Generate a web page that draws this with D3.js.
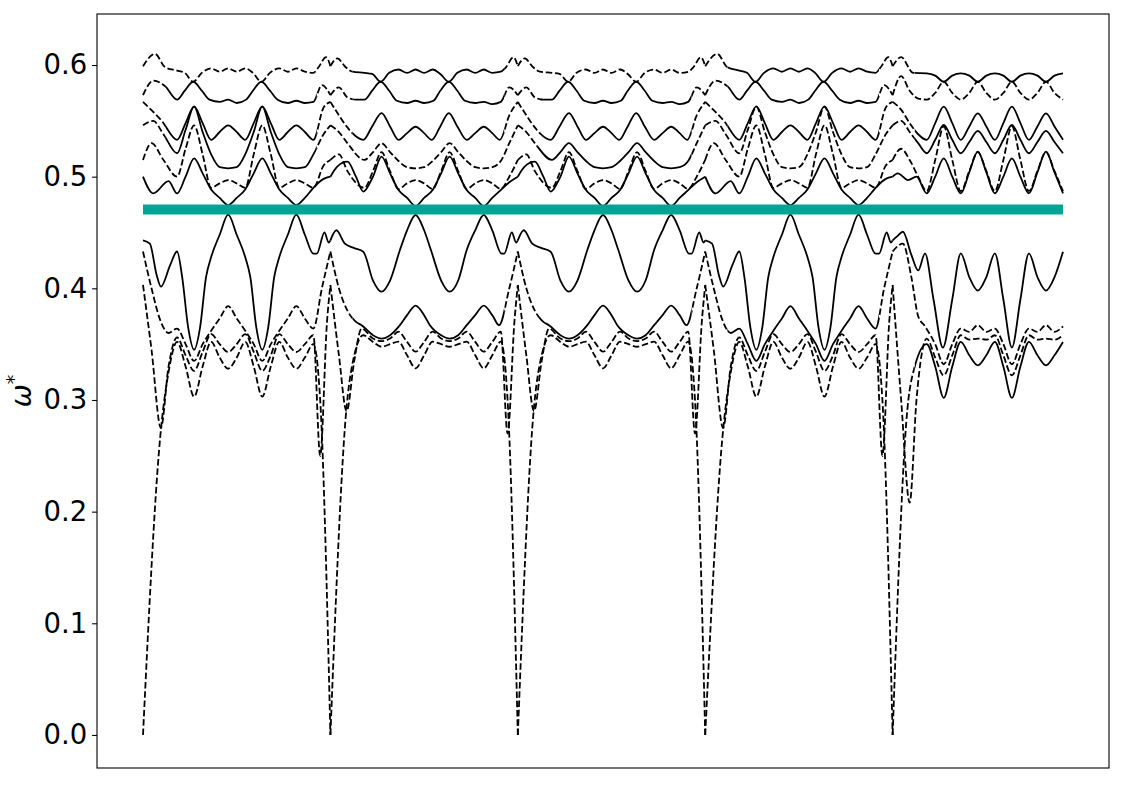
<!DOCTYPE html>
<html><head><meta charset="utf-8">
<script src="https://cdn.jsdelivr.net/npm/d3@7/dist/d3.min.js"></script>
<style>body{margin:0;background:#fff}svg{display:block}</style>
</head><body>
<svg id="chart" width="1125" height="785"></svg>
<script>
// ---------- DATA (omega* values; u = position along each path segment) ----------
const yTickValues = [0.0, 0.1, 0.2, 0.3, 0.4, 0.5, 0.6];
const segmentStarts = [0, 11, 22, 33, 44];
const segmentLengths = [11, 11, 11, 11, 10];
const segmentTypes = ["A", "B", "B", "A", "C"];
const bandNames = ["topHi", "topLo", "M1", "M2", "D1", "L0", "B0", "L1", "L2", "L3"];
const flatBandOmega = 0.4705;
const flatBandRange = [0, 54];

// segment type A (segments 1 and 4)
const A_topHi = [[0,.599],[0.7,.610],[1.3,.598],[2,.595],[2.45,.593],[2.95,.585],[3.45,.593],[4,.597],[4.5,.594],[5,.597],[5.5,.594],[6,.597],[6.45,.593],[6.95,.585],[7.45,.593],[8,.597],[8.5,.594],[9,.597],[9.5,.594],[10,.593],[10.3,.598],[10.75,.607],[11,.599]];
const A_topLo = [[0,.573],[0.6,.586],[1.3,.581],[2,.569],[2.45,.577],[2.95,.585],[3.45,.577],[3.9,.569],[4.5,.567],[5,.569],[5.5,.566],[6.05,.569],[6.45,.577],[6.95,.585],[7.45,.577],[7.9,.569],[8.5,.566],[9,.568],[9.5,.566],[10,.567],[10.5,.582],[11,.573]];
const A_M1 = [[0,.567],[0.6,.558],[1.1,.55],[2,.533],[2.5,.548],[3,.563],[3.5,.548],[4,.533],[4.5,.540],[5,.546],[5.5,.540],[6,.533],[6.5,.548],[7,.563],[7.5,.548],[8,.533],[8.5,.540],[9,.546],[9.5,.540],[10,.533],[10.6,.562],[11,.567]];
const A_M2 = [[0,.546],[0.6,.55],[1.2,.538],[2,.521],[2.5,.542],[3,.5627],[3.5,.54],[4,.52],[4.5,.5085],[5,.5075],[5.5,.5085],[6,.52],[6.5,.54],[7,.5627],[7.5,.54],[8,.52],[8.5,.5085],[9,.5075],[9.5,.5085],[10,.52],[10.6,.538],[11,.546]];
const A_D1 = [[0,.515],[0.5,.53],[1.2,.515],[2,.50],[2.5,.525],[3,.546],[3.5,.52],[4,.49],[4.5,.494],[5,.497],[5.5,.494],[6,.49],[6.5,.52],[7,.546],[7.5,.52],[8,.49],[8.5,.494],[9,.497],[9.5,.494],[10,.49],[10.6,.51],[11,.515]];
const A_L0 = [[0,.50],[0.6,.485],[1.5,.496],[2,.485],[2.5,.50],[3,.5164],[3.5,.503],[4,.4885],[4.5,.481],[5,.4746],[5.5,.481],[6,.4885],[6.5,.503],[7,.5164],[7.5,.503],[8,.4885],[8.5,.481],[9,.4746],[9.5,.481],[10,.49],[10.6,.498],[11,.50]];
const A_B0 = [[0,.443],[0.4,.44],[0.8,.412],[1.05,.4015],[1.6,.421],[2,.433],[2.3,.41],[2.65,.365],[3,.345],[3.35,.365],[3.7,.41],[4,.428],[4.5,.448],[5,.466],[5.5,.448],[6,.428],[6.3,.41],[6.65,.365],[7,.345],[7.35,.365],[7.7,.41],[8,.428],[8.5,.448],[9,.466],[9.5,.448],[10,.431],[10.2,.431],[10.65,.450],[10.9,.441],[11,.443]];
const A_L1 = [[0,.433],[0.5,.40],[1,.372],[1.5,.36],[2,.364],[2.5,.35],[3,.335],[3.5,.35],[4,.362],[4.5,.373],[5,.384],[5.5,.373],[6,.362],[6.5,.35],[7,.335],[7.5,.35],[8,.362],[8.5,.373],[9,.384],[9.5,.373],[10,.364],[10.5,.40],[11,.433]];
const A_L2 = [[0,.403],[0.5,.345],[1.05,.275],[1.5,.33],[2,.356],[2.5,.34],[3,.326],[3.5,.343],[4,.359],[4.5,.35],[5,.343],[5.5,.35],[6,.359],[6.5,.343],[7,.326],[7.5,.34],[8,.359],[8.5,.35],[9,.343],[9.5,.35],[10,.358],[10.4,.25],[10.8,.37],[11,.403]];
const A_L3 = [[0,0],[1.0,.265],[1.5,.325],[2,.352],[2.5,.33],[3,.303],[3.5,.33],[4,.352],[4.5,.338],[5,.328],[5.5,.338],[6,.352],[6.5,.33],[7,.303],[7.5,.33],[8,.352],[8.5,.338],[9,.328],[9.5,.338],[10,.35],[10.4,.30],[11,0]];

// segment type B (segments 2 and 3)
const B_topHi = [[0,.599],[0.4,.606],[0.9,.598],[1.3,.594],[2,.593],[2.45,.592],[2.95,.585],[3.45,.593],[4,.596],[4.5,.593],[5,.596],[5.5,.593],[6,.596],[6.45,.592],[6.95,.585],[7.45,.593],[8,.596],[8.5,.593],[9,.596],[9.5,.593],[10,.594],[10.3,.598],[10.75,.607],[11,.599]];
const B_topLo = [[0,.573],[0.5,.58],[1,.571],[1.5,.569],[2,.569],[2.45,.577],[2.95,.585],[3.45,.577],[3.9,.568],[4.5,.566],[5,.568],[5.5,.566],[6.05,.568],[6.45,.577],[6.95,.585],[7.45,.577],[7.9,.568],[8.5,.566],[9,.567],[9.5,.565],[10,.567],[10.5,.58],[11,.573]];
const B_M1 = [[0,.567],[0.5,.555],[0.95,.545],[1.93,.533],[2.45,.545],[3,.557],[3.5,.545],[4,.533],[4.5,.539],[5,.5447],[5.5,.539],[5.95,.533],[6.45,.545],[6.95,.557],[7.45,.545],[8,.533],[8.5,.539],[9,.5447],[9.5,.539],[9.95,.533],[10.5,.555],[11,.567]];
const B_M2 = [[0,.546],[0.5,.54],[1,.53],[2,.515],[2.5,.522],[3,.53],[3.5,.522],[4,.514],[4.5,.5085],[5,.5075],[5.5,.5085],[6,.514],[6.5,.522],[7,.53],[7.5,.522],[8,.514],[8.5,.5085],[9,.5075],[9.5,.5085],[10,.514],[10.5,.53],[11,.546]];
const B_D1 = [[0,.515],[0.5,.52],[1,.505],[2,.49],[2.5,.505],[3,.522],[3.5,.505],[4,.489],[4.5,.494],[5,.497],[5.5,.494],[6,.489],[6.5,.505],[7,.522],[7.5,.505],[8,.489],[8.5,.494],[9,.497],[9.5,.494],[10,.489],[10.5,.50],[11,.515]];
const B_L0 = [[0,.50],[0.4,.509],[1,.5134],[1.5,.50],[1.93,.4866],[2.5,.50],[3,.518],[3.5,.503],[4,.488],[4.5,.481],[5,.4737],[5.5,.481],[6,.488],[6.5,.503],[7,.518],[7.5,.503],[8,.488],[8.5,.481],[9,.4737],[9.5,.481],[10,.488],[10.5,.495],[11,.50]];
const B_B0 = [[0,.443],[0.35,.452],[0.85,.44],[1.4,.436],[1.93,.4328],[2.5,.407],[3,.397],[3.5,.407],[4.08,.4343],[4.5,.452],[5,.4657],[5.5,.452],[5.9,.4343],[6.5,.407],[7,.397],[7.5,.407],[8,.4343],[8.5,.452],[9,.4657],[9.5,.452],[10.05,.431],[10.2,.431],[10.65,.450],[10.9,.441],[11,.443]];
const B_L1 = [[0,.433],[0.5,.40],[1,.38],[1.5,.37],[1.83,.367],[2.5,.358],[3,.355],[3.5,.358],[4.08,.367],[4.5,.376],[5,.3845],[5.5,.376],[5.84,.367],[6.5,.358],[7,.355],[7.5,.358],[8,.367],[8.5,.376],[9,.3845],[9.5,.376],[9.9,.367],[10.5,.40],[11,.433]];
const B_L2 = [[0,.403],[0.5,.34],[0.95,.29],[1.4,.335],[1.83,.364],[2.5,.355],[3,.3528],[3.5,.355],[4,.3612],[4.5,.352],[5,.3433],[5.5,.352],[6,.3612],[6.5,.355],[7,.3528],[7.5,.355],[8,.3612],[8.5,.352],[9,.3433],[9.5,.352],[10,.3612],[10.4,.27],[10.8,.37],[11,.403]];
const B_L3 = [[0,0],[0.9,.285],[1.4,.34],[1.93,.358],[2.5,.352],[3,.3477],[3.5,.35],[4,.3522],[4.5,.34],[5,.3284],[5.5,.34],[6,.3522],[6.5,.35],[7,.3477],[7.5,.35],[8,.3522],[8.5,.34],[9,.3284],[9.5,.34],[10,.3522],[10.4,.30],[11,0]];

// segment type C (segment 5, shorter)
const C_topHi = [[0,.599],[0.5,.607],[1.2,.593],[2,.5925],[2.5,.5905],[3,.585],[3.5,.5905],[4,.5925],[4.5,.5905],[5,.585],[5.5,.5905],[6,.5925],[6.5,.5905],[7,.585],[7.5,.5905],[8,.5925],[8.5,.5905],[9,.585],[9.5,.5905],[10,.5925]];
const C_topLo = [[0,.573],[0.5,.59],[1,.577],[1.5,.57],[2,.569],[2.5,.575],[3,.585],[3.5,.575],[4,.569],[4.5,.575],[5,.585],[5.5,.575],[6,.569],[6.5,.575],[7,.585],[7.5,.575],[8,.569],[8.5,.575],[9,.585],[9.5,.575],[10,.569]];
const C_M1 = [[0,.567],[0.5,.56],[1,.548],[1.5,.538],[2,.533],[2.5,.548],[3,.5627],[3.5,.548],[4,.533],[4.5,.545],[5,.5567],[5.5,.545],[6,.533],[6.5,.548],[7,.5627],[7.5,.548],[8,.533],[8.5,.545],[9,.5567],[9.5,.545],[10,.533]];
const C_M2 = [[0,.546],[0.5,.55],[1,.54],[1.5,.53],[2,.521],[2.5,.533],[3,.5463],[3.5,.533],[4,.521],[4.5,.531],[5,.541],[5.5,.531],[6,.521],[6.5,.533],[7,.5463],[7.5,.533],[8,.521],[8.5,.531],[9,.541],[9.5,.531],[10,.521]];
const C_D1 = [[0,.515],[0.5,.525],[1,.515],[1.5,.50],[2,.487],[2.5,.515],[3,.545],[3.5,.515],[4,.487],[4.5,.505],[5,.522],[5.5,.505],[6,.487],[6.5,.515],[7,.545],[7.5,.515],[8,.487],[8.5,.505],[9,.522],[9.5,.505],[10,.487]];
const C_L0 = [[0,.50],[0.3,.503],[0.9,.497],[1.4,.50],[2,.4851],[2.5,.50],[3,.5164],[3.5,.50],[4,.4851],[4.5,.504],[5,.5224],[5.5,.504],[6,.4851],[6.5,.50],[7,.5164],[7.5,.50],[8,.4851],[8.5,.504],[9,.5224],[9.5,.504],[10,.4851]];
const C_B0 = [[0,.443],[0.3,.447],[0.6,.4507],[1.1,.43],[1.5,.416],[1.9,.4313],[2.4,.39],[2.95,.347],[3.5,.39],[4,.4313],[4.5,.41],[5,.398],[5.5,.41],[6,.4313],[6.5,.39],[7,.347],[7.5,.39],[8,.4313],[8.5,.41],[9,.398],[9.5,.41],[10,.4328]];
const C_L1 = [[0,.433],[0.6,.44],[1.1,.41],[1.5,.375],[1.9,.366],[2.5,.35],[3,.332],[3.5,.35],[4,.364],[4.5,.361],[5,.367],[5.5,.361],[6,.364],[6.5,.35],[7,.332],[7.5,.35],[8,.364],[8.5,.361],[9,.367],[9.5,.361],[10,.366]];
const C_L2 = [[0,.403],[0.5,.30],[1.0,.208],[1.4,.30],[2,.355],[2.5,.338],[3,.322],[3.5,.34],[4,.358],[4.5,.354],[5,.355],[5.5,.354],[6,.358],[6.5,.34],[7,.322],[7.5,.34],[8,.358],[8.5,.354],[9,.355],[9.5,.354],[10,.358]];
const C_L3 = [[0,0],[0.8,.28],[1.3,.33],[2,.35],[2.5,.33],[3,.302],[3.5,.33],[4,.352],[4.5,.34],[5,.331],[5.5,.34],[6,.352],[6.5,.33],[7,.302],[7.5,.33],[8,.352],[8.5,.34],[9,.331],[9.5,.34],[10,.352]];

// line style of each band in the middle of each segment (1 = solid, 0 = dashed)
const segmentSolid = [
  [0,1,1,1,0,1,1,0,0,0],
  [1,1,1,0,0,1,1,1,0,0],
  [0,1,1,1,0,1,1,1,0,0],
  [1,1,1,0,0,1,1,1,0,0],
  [1,0,1,1,0,1,1,0,0,1]
];
const alwaysSolidBands = ["L0", "B0"];

// ---------- DRAWING ----------
const templates = {
  A: {topHi:A_topHi, topLo:A_topLo, M1:A_M1, M2:A_M2, D1:A_D1, L0:A_L0, B0:A_B0, L1:A_L1, L2:A_L2, L3:A_L3},
  B: {topHi:B_topHi, topLo:B_topLo, M1:B_M1, M2:B_M2, D1:B_D1, L0:B_L0, B0:B_B0, L1:B_L1, L2:B_L2, L3:B_L3},
  C: {topHi:C_topHi, topLo:C_topLo, M1:C_M1, M2:C_M2, D1:C_D1, L0:C_L0, B0:C_B0, L1:C_L1, L2:C_L2, L3:C_L3}
};

const W = 1125, H = 785;
const plot = {left: 97, right: 1109, top: 14, bottom: 768};
const svg = d3.select("#chart");
const x = d3.scaleLinear().domain([-2.70, 56.70]).range([plot.left, plot.right]);
const y = d3.scaleLinear().domain([-0.0296, 0.6457]).range([plot.bottom, plot.top]);
const line = d3.line().x(d => x(d[0])).y(d => y(d[1])).curve(d3.curveMonotoneX);

const defs = svg.append("defs");
defs.append("clipPath").attr("id", "plotClip").append("rect")
  .attr("x", plot.left).attr("y", plot.top)
  .attr("width", plot.right - plot.left).attr("height", plot.bottom - plot.top);

const CORE_L = 1.3, CORE_R = 10.2;
segmentStarts.forEach((s, i) => {
  const len = segmentLengths[i];
  const core = defs.append("clipPath").attr("id", "core" + i);
  core.append("rect").attr("x", x(s + CORE_L)).attr("y", 0)
    .attr("width", (len > CORE_R ? x(s + CORE_R) : x(s + len) + 6) - x(s + CORE_L)).attr("height", H);
  const tr = defs.append("clipPath").attr("id", "trans" + i);
  tr.append("rect").attr("x", x(s) - 6).attr("y", 0).attr("width", x(s + CORE_L) - x(s) + 6).attr("height", H);
  if (len > CORE_R) {
    tr.append("rect").attr("x", x(s + CORE_R)).attr("y", 0).attr("width", x(s + len) - x(s + CORE_R) + 6).attr("height", H);
  }
});

const g = svg.append("g").attr("clip-path", "url(#plotClip)");
const DASH = "6.5,2.8";

function drawPath(parent, pts, dashed, clipId) {
  const p = parent.append("path").attr("d", line(pts))
    .attr("fill", "none").attr("stroke", "#000").attr("stroke-width", 1.8)
    .attr("stroke-linejoin", "round");
  if (dashed) p.attr("stroke-dasharray", DASH);
  if (clipId) p.attr("clip-path", "url(#" + clipId + ")");
}

segmentStarts.forEach((s, i) => {
  const tpl = templates[segmentTypes[i]];
  bandNames.forEach((b, j) => {
    const pts = tpl[b].map(d => [s + d[0], d[1]]);
    if (alwaysSolidBands.includes(b)) {
      drawPath(g, pts, false, null);
    } else if (segmentSolid[i][j]) {
      drawPath(g, pts, false, "core" + i);
      drawPath(g, pts, true, "trans" + i);
    } else {
      drawPath(g, pts, true, null);
    }
  });
});

// flat band (teal)
g.append("line")
  .attr("x1", x(flatBandRange[0])).attr("x2", x(flatBandRange[1]))
  .attr("y1", y(flatBandOmega)).attr("y2", y(flatBandOmega))
  .attr("stroke", "#00a693").attr("stroke-width", 10);

// frame
svg.append("rect").attr("x", plot.left).attr("y", plot.top)
  .attr("width", plot.right - plot.left).attr("height", plot.bottom - plot.top)
  .attr("fill", "none").attr("stroke", "#000").attr("stroke-width", 1.1);

// y axis
const yAxis = d3.axisLeft(y).tickValues(yTickValues).tickFormat(d3.format(".1f"))
  .tickSize(4.9).tickPadding(4.9);
const ya = svg.append("g").attr("transform", `translate(${plot.left},0)`).call(yAxis);
ya.select(".domain").remove();
ya.selectAll(".tick line").attr("stroke", "#000").attr("stroke-width", 1.1);
ya.selectAll(".tick text").attr("font-family", "DejaVu Sans, sans-serif")
  .attr("font-size", 27.5).attr("fill", "#000");

// y label: omega*
const lab = svg.append("text")
  .attr("transform", `translate(31,${(plot.top + plot.bottom) / 2}) rotate(-90)`)
  .attr("text-anchor", "middle")
  .attr("font-family", "DejaVu Sans, sans-serif").attr("font-size", 27.5).attr("fill", "#000");
lab.append("tspan").attr("font-style", "italic").text("ω");
lab.append("tspan").attr("font-size", 19).attr("dy", -11).text("*");
</script>
</body></html>
